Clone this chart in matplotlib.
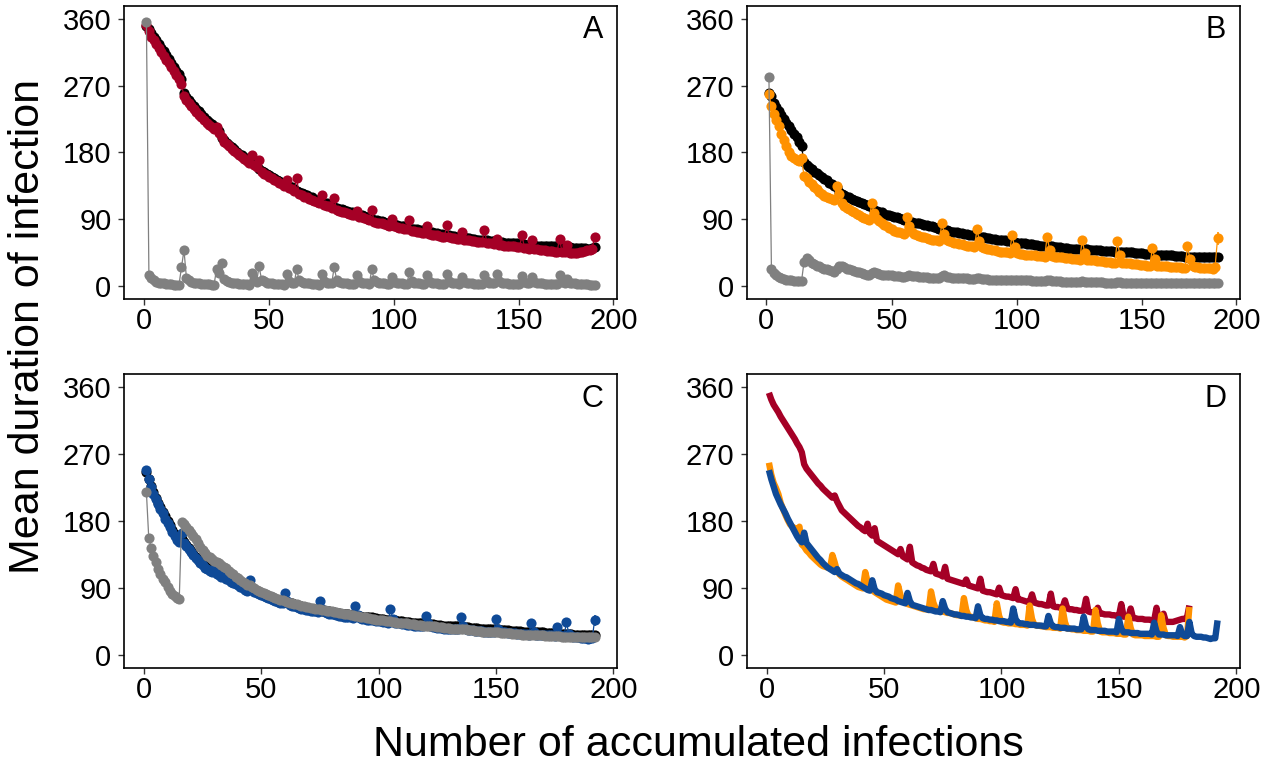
import matplotlib
matplotlib.use('Agg')
import matplotlib.pyplot as plt

plt.rcParams['font.family'] = ['Liberation Sans', 'DejaVu Sans']

# ---------------- data ----------------
a_black = [350,346,341,336,331,326,321,316,311,306,
           301,295,290,285,279,260,255,251,247,243,
           239,235,231,228,224,221,218,215,212,209,
           199,196,193,190,187,184,181,178,176,173,
           171,169,167,164,162,157,155,153,151,149,
           147,145,143,141,139,138,136,134,133,131,
           128,126,125,123,122,120,119,117,116,115,
           113,112,111,109,108,106,105,104,103,102,
           101,100,99,98,97,96,95,94,93,92,
           90,89,88,87,87,86,85,84,83,83,
           82,81,80,80,79,78,77,77,76,75,
           75,74,73,73,72,71,71,70,70,69,
           68,68,67,67,66,66,65,65,64,64,
           63,63,62,62,62,61,61,60,60,60,
           59,59,59,58,58,58,57,57,57,56,
           56,56,55,55,55,55,54,54,54,54,
           53,53,53,53,53,52,52,52,52,52,
           51,51,51,51,51,51,50,50,51,52]

a_red = [352,343,336,331,326,320,315,310,305,300,
         295,290,284,279,272,256,250,246,242,238,
         234,230,227,223,220,217,214,211,214,206,
         200,194,191,188,185,182,179,176,173,171,
         168,166,176,163,160,170,153,151,149,147,
         145,143,141,139,137,135,142,132,130,128,
         145,124,122,120,119,117,116,114,113,112,
         122,109,108,107,105,118,102,101,100,99,
         98,97,96,95,101,93,92,91,90,89,
         102,86,85,84,84,83,82,81,90,80,
         79,78,78,77,76,88,74,74,73,72,
         71,71,81,70,69,68,68,67,66,66,
         82,65,64,64,63,63,73,62,61,61,
         60,60,59,59,59,75,58,57,57,56,
         63,55,55,54,54,54,53,53,52,52,
         68,51,51,50,62,49,49,48,48,48,
         47,47,47,46,46,63,45,45,55,44,
         44,44,44,45,46,47,48,48,50,66]

a_gray = [356,14,10,7,5,4,3,3,2,2,
          2,1,1,1,25,48,10,7,5,4,
          3,3,2,2,2,2,1,1,22,17,
          30,9,6,5,4,3,3,2,2,2,
          2,1,17,7,5,26,8,6,4,3,
          3,2,2,2,2,1,16,6,4,3,
          22,7,5,4,3,3,2,2,2,1,
          16,6,4,3,3,25,8,5,4,3,
          3,2,2,2,14,6,4,3,3,2,
          22,7,5,4,3,3,2,2,12,5,
          4,3,3,2,2,18,6,4,3,3,
          2,2,15,6,4,3,3,2,2,2,
          16,6,4,3,3,2,12,5,4,3,
          3,2,2,2,2,15,6,4,3,3,
          16,6,4,3,3,2,2,2,2,2,
          13,5,4,3,12,5,4,3,3,2,
          2,2,2,2,2,15,5,4,9,4,
          3,3,2,2,2,2,2,1,1,1]

b_black = [260,256,247,241,236,230,225,220,215,210,
           205,200,194,188,167,163,160,157,154,152,
           149,146,144,142,139,137,135,133,126,124,
           122,120,119,117,116,114,113,112,110,109,
           108,106,102,101,100,99,97,96,95,94,
           93,92,91,90,89,88,86,86,85,84,
           84,83,82,82,81,80,79,78,77,77,
           75,75,74,73,73,72,71,71,70,70,
           69,68,68,67,66,65,65,64,64,63,
           63,62,62,61,61,60,60,59,59,58,
           58,57,57,56,56,56,55,55,54,54,
           54,53,53,53,52,52,52,51,51,51,
           50,50,50,50,49,49,49,49,48,48,
           48,48,48,47,47,47,47,47,46,46,
           46,46,45,45,45,45,44,44,44,44,
           43,43,43,43,42,42,42,42,41,41,
           41,41,40,40,40,40,39,39,39,39,
           39,38,38,38,38,38,38,38,38,39]

b_orange = [258,242,231,224,216,204,196,188,181,175,
            172,170,168,172,148,145,140,137,133,130,
            127,124,121,119,118,117,116,134,124,112,
            108,105,103,101,99,97,95,93,91,90,
            89,111,98,90,87,84,82,80,78,76,
            74,73,72,71,70,93,80,72,70,68,
            67,66,65,64,63,62,61,61,60,85,
            70,62,60,59,58,57,56,56,55,54,
            53,53,52,76,60,52,51,50,49,48,
            48,47,46,46,45,45,44,69,52,44,
            43,43,42,42,42,41,41,40,40,40,
            39,66,48,40,39,39,38,38,37,37,
            37,36,36,36,35,62,44,35,35,34,
            34,33,33,33,32,32,32,31,31,60,
            42,31,30,30,30,29,29,29,28,28,
            28,27,27,51,36,27,26,26,26,26,
            25,25,25,25,25,24,24,53,36,26,
            25,25,24,24,24,24,24,23,25,64]

b_gray = [282,22,17,14,12,10,9,8,7,7,
          6,6,6,6,32,37,34,31,29,27,
          26,24,23,22,21,20,19,22,26,26,
          25,23,22,21,20,19,18,17,16,15,
          15,17,19,17,16,15,15,14,14,14,
          13,13,13,12,12,13,14,13,13,13,
          12,12,12,12,11,11,11,11,11,13,
          14,12,12,11,11,11,10,10,10,10,
          9,9,9,10,10,9,9,9,8,8,
          8,8,8,8,7,7,7,8,8,7,
          7,7,7,7,7,6,6,6,6,6,
          6,7,7,6,6,6,6,5,5,5,
          5,5,5,5,5,6,5,5,5,5,
          5,5,5,5,4,4,4,4,4,5,
          5,4,4,4,4,4,4,4,4,4,
          4,4,4,4,4,4,3,3,3,3,
          3,3,3,3,3,3,3,3,3,3,
          3,3,3,3,3,3,3,3,3,3]

c_blue = [248,236,226,216,209,202,196,190,183,177,
          171,165,159,154,151,164,150,146,142,138,
          134,130,127,123,120,117,115,113,111,115,
          109,107,105,104,102,100,98,96,95,93,
          91,89,87,86,100,88,84,83,82,80,
          79,78,76,75,74,72,71,70,69,83,
          72,67,66,65,64,63,62,61,60,60,
          59,58,58,57,72,62,57,56,55,54,
          54,53,52,52,51,51,50,50,49,65,
          53,49,48,48,47,47,46,46,45,45,
          45,44,44,43,62,48,43,42,42,41,
          41,40,40,40,39,39,39,38,38,52,
          42,38,37,37,36,36,36,35,35,35,
          35,34,34,34,51,38,34,33,33,33,
          32,32,32,32,31,31,31,31,30,48,
          35,30,30,30,29,29,29,29,28,28,
          28,28,28,27,43,31,27,27,27,26,
          26,26,26,26,25,37,27,25,25,44,
          28,25,24,24,24,23,23,22,21,22,
          22,46]

c_black = [246,236,227,219,211,204,198,192,186,180,
           174,168,162,157,153,155,151,147,143,139,
           135,131,128,125,122,119,117,115,113,112,
           110,109,107,106,104,102,100,98,97,95,
           93,92,90,89,88,88,86,85,84,82,
           81,80,79,77,76,75,74,73,72,72,
           71,70,69,68,67,66,65,64,63,63,
           62,61,61,60,60,59,59,58,58,57,
           57,56,56,55,55,54,54,53,53,53,
           52,52,51,51,50,50,50,49,49,48,
           48,48,47,47,47,46,46,45,45,45,
           44,44,44,43,43,43,42,42,42,42,
           41,41,41,40,40,40,39,39,39,39,
           38,38,38,38,38,37,37,37,36,36,
           36,36,35,35,35,35,34,34,34,34,
           34,33,33,33,33,32,32,32,32,32,
           31,31,31,31,31,30,30,30,30,30,
           29,29,29,29,29,29,28,28,28,28,
           28,28,27,27,27,27,27,27,26,26,
           26,27]

c_gray = [218,157,144,133,124,115,109,102,97,91,
          86,82,79,76,75,178,176,172,167,163,
          159,155,150,145,140,136,133,131,128,126,
          125,123,120,118,116,113,110,108,105,103,
          100,98,96,94,93,91,89,87,86,84,
          83,81,80,79,77,76,75,74,73,72,
          71,70,69,68,68,67,66,65,64,64,
          63,63,62,61,61,60,60,59,59,58,
          57,57,56,56,55,54,54,53,53,52,
          52,51,50,50,49,49,48,48,47,47,
          46,46,45,45,45,44,44,43,43,42,
          42,42,41,41,41,40,40,40,39,39,
          39,38,38,38,37,37,37,36,36,36,
          35,35,35,35,34,34,34,33,33,33,
          32,32,32,31,31,31,31,30,30,30,
          30,29,29,29,29,29,28,28,28,28,
          27,27,27,27,27,26,26,26,26,26,
          25,25,25,25,25,25,25,24,24,24,
          24,24,24,24,24,24,24,24,24,24,
          24,24]

# error bars visible on the last points
last_err = {'a_red': 5, 'b_orange': 9, 'c_blue': 7}

y_ticks = [0, 90, 180, 270, 360]
x_ticks_ab = [0, 50, 100, 150, 187.5]
x_ticks_cd = [0, 50, 100, 150, 200]
x_tick_labels = ['0', '50', '100', '150', '200']
panel_letters = ['A', 'B', 'C', 'D']

RED = '#A50026'
ORANGE = '#FF9100'
BLUE = '#0F4A97'
GRAY = '#808080'
BLACK = '#000000'

W, H = 1273, 763
fig = plt.figure(figsize=(W / 100, H / 100), dpi=100)


def add_ax(l, r, t, b):
    return fig.add_axes([l / W, 1 - b / H, (r - l) / W, (b - t) / H])


axA = add_ax(124, 617, 5.5, 299)
axB = add_ax(746.5, 1240, 5.5, 299)
axC = add_ax(124, 617, 373.5, 668)
axD = add_ax(746.5, 1240, 373.5, 668)


def series(ax, y, color, key=None, z=2):
    x = list(range(1, len(y) + 1))
    ax.plot(x, y, '-', color=color, lw=0.9, zorder=z)
    ax.plot(x, y, 'o', color=color, ms=7.3, mew=0, zorder=z)
    if key is not None:
        ax.errorbar([x[-1]], [y[-1]], yerr=[last_err[key]], fmt='none',
                    ecolor=color, elinewidth=1.2, capsize=0, zorder=z)


series(axA, a_black, BLACK, None, 2)
series(axA, a_red, RED, 'a_red', 3)
series(axA, a_gray, GRAY, None, 4)

series(axB, b_black, BLACK, None, 2)
series(axB, b_orange, ORANGE, 'b_orange', 3)
series(axB, b_gray, GRAY, None, 4)

series(axC, c_black, BLACK, None, 2)
series(axC, c_blue, BLUE, 'c_blue', 3)
series(axC, c_gray, GRAY, None, 4)

for yv, col in [(a_red, RED), (b_orange, ORANGE), (c_blue, BLUE)]:
    axD.plot(list(range(1, len(yv) + 1)), yv, '-', color=col, lw=4.6,
             solid_joinstyle='round', solid_capstyle='butt')

for i, ax in enumerate([axA, axB, axC, axD]):
    ax.set_ylim(-18, 378)
    ax.set_yticks(y_ticks)
    if i < 2:
        ax.set_xlim(-7.95, 188.95)
        ax.set_xticks(x_ticks_ab)
    else:
        ax.set_xlim(-8.55, 201.55)
        ax.set_xticks(x_ticks_cd)
    ax.set_xticklabels(x_tick_labels)
    ax.tick_params(axis='both', labelsize=21, length=4, width=1,
                   direction='out', color='#333333', labelcolor='black')
    ax.tick_params(axis='y', pad=5)
    ax.tick_params(axis='x', pad=2)
    for s in ax.spines.values():
        s.set_linewidth(1.2)
        s.set_color('black')
    ax.text(0.951, 0.915, panel_letters[i], transform=ax.transAxes,
            fontsize=22, ha='center', va='center')

fig.text(698 / W, 1 - 745 / H, 'Number of accumulated infections',
         fontsize=31, ha='center', va='center')
fig.text(28 / W, 1 - 326 / H, 'Mean duration of infection',
         fontsize=31, ha='center', va='center', rotation=90)

fig.savefig('out.png', dpi=100)
